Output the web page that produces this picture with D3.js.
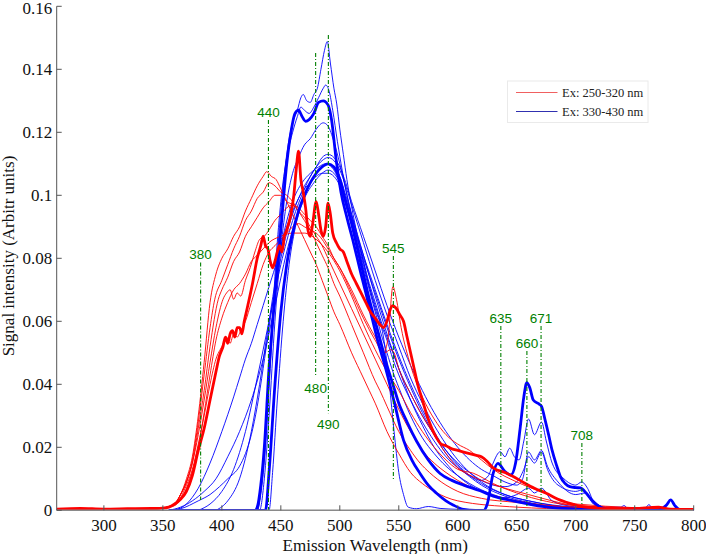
<!DOCTYPE html>
<html><head><meta charset="utf-8">
<script src="https://cdn.jsdelivr.net/npm/d3@7"></script>
<style>
html,body{margin:0;padding:0;background:#fff;}
svg{display:block;}
</style></head>
<body>
<svg id="chart" width="706" height="554"></svg>
<script>
// ---------------- DATA ----------------
const xTicks = [300,350,400,450,500,550,600,650,700,750,800];
const yTicks = [0,0.02,0.04,0.06,0.08,0.1,0.12,0.14,0.16];
const yTickLabels = ["0","0.02","0.04","0.06","0.08","0.1","0.12","0.14","0.16"];
const legendLabels = ["Ex: 250-320 nm","Ex: 330-430 nm"];

// red group (Ex 250-320 nm), [wavelength nm, intensity]
const redA = [[260,0.0003],[300,0.0004],[340,0.0004],[350,0.0007],[355,0.0012],[360,0.002],[365,0.005],[370,0.01],[375,0.017],[380,0.03],[385,0.047],[390,0.066],[395,0.075],[400,0.08],[405,0.083],[410,0.087],[415,0.09],[420,0.095],[425,0.099],[430,0.103],[435,0.106],[438,0.1075],[442,0.106],[446,0.105],[450,0.102],[455,0.098],[460,0.094],[465,0.09],[470,0.086],[475,0.082],[480,0.078],[485,0.073],[490,0.068],[495,0.063],[500,0.059],[510,0.05],[520,0.042],[525,0.038],[530,0.034],[540,0.025],[550,0.018],[560,0.012],[570,0.0085],[580,0.006],[600,0.003],[650,0.001],[700,0.0004],[800,0.0002]];
const redB = [[260,0.0003],[300,0.0004],[340,0.0005],[350,0.0007],[355,0.0012],[360,0.002],[365,0.005],[370,0.009],[375,0.016],[380,0.028],[385,0.043],[390,0.058],[394,0.067],[400,0.073],[405,0.078],[410,0.083],[415,0.087],[420,0.092],[425,0.095],[430,0.099],[435,0.101],[440,0.104],[445,0.103],[450,0.101],[455,0.1],[460,0.098],[465,0.095],[470,0.092],[475,0.089],[480,0.085],[485,0.081],[490,0.077],[495,0.072],[500,0.068],[510,0.059],[520,0.05],[530,0.041],[534,0.038],[540,0.033],[550,0.025],[560,0.019],[568,0.015],[576,0.012],[590,0.008],[600,0.006],[620,0.0038],[650,0.0025],[700,0.0008],[800,0.0002]];
const redC = [[260,0.0003],[300,0.0004],[340,0.0004],[350,0.0006],[355,0.0011],[360,0.002],[365,0.005],[370,0.009],[375,0.015],[380,0.026],[385,0.038],[390,0.052],[397,0.067],[400,0.07],[405,0.074],[410,0.079],[415,0.082],[420,0.087],[425,0.09],[430,0.093],[435,0.096],[440,0.098],[445,0.1],[450,0.1],[455,0.098],[460,0.097],[465,0.095],[470,0.093],[475,0.09],[480,0.087],[485,0.084],[490,0.08],[495,0.076],[500,0.072],[510,0.064],[520,0.056],[530,0.048],[540,0.04],[550,0.032],[560,0.025],[570,0.019],[580,0.015],[590,0.012],[600,0.0095],[620,0.006],[650,0.003],[700,0.001],[800,0.0002]];
const redD = [[260,0.0003],[300,0.0004],[340,0.0005],[350,0.0007],[355,0.0011],[360,0.002],[365,0.005],[370,0.009],[375,0.015],[380,0.024],[385,0.035],[390,0.047],[395,0.058],[401,0.067],[404,0.069],[407,0.07],[410,0.067],[413,0.069],[416,0.068],[420,0.073],[424,0.077],[428,0.082],[432,0.086],[436,0.087],[440,0.089],[445,0.092],[450,0.094],[455,0.096],[460,0.097],[465,0.096],[470,0.094],[475,0.092],[480,0.09],[485,0.087],[490,0.084],[495,0.08],[500,0.077],[510,0.069],[520,0.061],[530,0.054],[537,0.05],[541,0.055],[545,0.071],[548,0.067],[552,0.058],[560,0.046],[570,0.036],[580,0.029],[590,0.024],[600,0.021],[610,0.019],[620,0.016],[630,0.013],[650,0.009],[670,0.006],[700,0.002],[800,0.0003]];
const redE = [[260,0.0003],[300,0.0004],[340,0.0004],[350,0.0006],[355,0.001],[360,0.002],[365,0.004],[370,0.008],[375,0.013],[380,0.021],[385,0.03],[390,0.04],[395,0.048],[400,0.052],[404,0.055],[407,0.053],[410,0.056],[413,0.055],[416,0.057],[420,0.06],[425,0.066],[430,0.072],[435,0.078],[440,0.082],[445,0.084],[450,0.086],[455,0.088],[460,0.09],[465,0.091],[470,0.09],[475,0.089],[480,0.088],[485,0.086],[490,0.083],[495,0.08],[500,0.077],[510,0.07],[520,0.062],[530,0.055],[538,0.05],[543,0.051],[546,0.05],[550,0.045],[560,0.037],[570,0.03],[580,0.024],[590,0.018],[600,0.0135],[610,0.0112],[620,0.0095],[640,0.007],[660,0.005],[680,0.003],[700,0.0015],[800,0.0003]];
const redF = [[260,0.0003],[300,0.0004],[340,0.0004],[350,0.0006],[355,0.001],[360,0.0015],[370,0.007],[380,0.02],[385,0.031],[390,0.043],[395,0.054],[400,0.061],[405,0.066],[410,0.07],[415,0.072],[420,0.075],[425,0.079],[430,0.081],[435,0.083],[440,0.085],[450,0.087],[460,0.088],[470,0.088],[480,0.086],[490,0.082],[500,0.076],[510,0.068],[520,0.059],[530,0.051],[540,0.044],[550,0.038],[560,0.031],[570,0.025],[580,0.02],[590,0.016],[600,0.013],[613,0.0118],[630,0.0085],[650,0.0055],[700,0.0015],[800,0.0002]];
const redThick = [[260,0.0004],[280,0.0006],[300,0.0004],[320,0.0005],[340,0.0006],[350,0.0007],[355,0.001],[360,0.002],[365,0.0035],[370,0.006],[375,0.011],[380,0.019],[385,0.026],[390,0.035],[395,0.044],[398,0.049],[401,0.052],[403,0.055],[405,0.053],[407,0.056],[409,0.057],[411,0.055],[413,0.058],[415,0.058],[417,0.056],[419,0.06],[422,0.065],[426,0.072],[430,0.08],[433,0.084],[435,0.087],[437,0.084],[439,0.083],[441,0.079],[443,0.077],[445,0.079],[447,0.082],[449,0.084],[451,0.082],[453,0.087],[455,0.089],[458,0.093],[461,0.1],[463,0.108],[465,0.114],[467,0.105],[469,0.101],[471,0.096],[473,0.089],[475,0.087],[477,0.091],[480,0.098],[482,0.094],[484,0.089],[486,0.087],[488,0.09],[490,0.0975],[492,0.094],[494,0.088],[497,0.085],[500,0.083],[503,0.082],[506,0.079],[510,0.075],[514,0.072],[518,0.069],[522,0.066],[526,0.063],[530,0.061],[534,0.059],[537,0.058],[540,0.06],[543,0.064],[545,0.065],[548,0.064],[551,0.062],[554,0.06],[557,0.055],[560,0.05],[563,0.045],[566,0.04],[570,0.035],[574,0.03],[578,0.026],[582,0.023],[586,0.021],[590,0.0205],[595,0.0195],[600,0.019],[605,0.0185],[610,0.018],[615,0.0175],[620,0.017],[625,0.0155],[630,0.0135],[640,0.012],[647,0.0107],[655,0.009],[665,0.007],[675,0.0054],[685,0.0035],[695,0.0022],[705,0.0012],[715,0.0008],[730,0.0005],[750,0.0006],[770,0.001],[780,0.0004],[800,0.0003]];

// blue group (Ex 330-430 nm)
const blueB1 = [[355,0],[430,0],[433,0.005],[437,0.02],[441,0.045],[445,0.07],[450,0.095],[455,0.113],[460,0.123],[464,0.127],[467,0.131],[469,0.132],[472,0.13],[475,0.1295],[478,0.132],[481,0.134],[484,0.14],[487,0.146],[489.4,0.1488],[492,0.142],[495,0.134],[497.4,0.129],[500,0.121],[503,0.113],[506,0.105],[510,0.0964],[515,0.087],[520,0.079],[525,0.071],[530,0.064],[537,0.055],[542,0.04],[546,0.025],[550,0.012],[554,0.005],[558,0.001],[565,0.0005],[575,0.0012],[585,0.0006],[600,0.0003],[620,0],[800,0]];
const blueB2 = [[355,0],[430,0],[434,0.01],[438,0.03],[442,0.055],[446,0.08],[450,0.098],[455,0.112],[460,0.12],[464,0.125],[467,0.128],[470,0.127],[474,0.126],[478,0.128],[482,0.131],[486,0.134],[488,0.135],[491,0.133],[494,0.127],[498,0.117],[502,0.108],[506,0.1],[510,0.093],[515,0.085],[520,0.078],[525,0.071],[530,0.065],[535,0.059],[540,0.054],[545,0.048],[550,0.043],[560,0.035],[570,0.028],[580,0.022],[590,0.017],[600,0.0135],[610,0.011],[620,0.0095],[626,0.011],[630,0.015],[636,0.0186],[640,0.017],[644,0.0197],[648,0.017],[652,0.016],[656,0.022],[660,0.029],[665,0.024],[671,0.028],[675,0.022],[680,0.015],[690,0.01],[700,0.008],[705,0.009],[710,0.007],[715,0.003],[725,0.001],[738,0.001],[741,0.0015],[745,0.0003],[758,0.0003],[762,0.0018],[766,0.0003],[800,0]];
const blueB3 = [[355,0],[432,0],[436,0.01],[440,0.03],[445,0.06],[450,0.083],[455,0.098],[460,0.107],[465,0.112],[470,0.116],[475,0.118],[480,0.121],[486,0.123],[490,0.122],[495,0.117],[500,0.11],[505,0.102],[510,0.094],[515,0.086],[520,0.079],[525,0.072],[530,0.066],[535,0.06],[540,0.055],[545,0.05],[550,0.045],[560,0.037],[570,0.03],[580,0.024],[590,0.019],[600,0.015],[610,0.012],[620,0.0095],[630,0.008],[640,0.0075],[650,0.009],[656,0.013],[660,0.017],[665,0.015],[671,0.0185],[676,0.013],[685,0.008],[700,0.006],[706,0.0065],[712,0.004],[720,0.0015],[730,0.0005],[800,0]];
const blueG1 = [[355,0],[365,0.0005],[380,0.003],[390,0.005],[398,0.0075],[405,0.01],[415,0.014],[420,0.018],[425,0.024],[430,0.033],[435,0.045],[440,0.058],[445,0.07],[450,0.08],[455,0.088],[460,0.094],[465,0.099],[470,0.102],[475,0.104],[480,0.106],[485,0.107],[490,0.107],[495,0.106],[500,0.103],[505,0.097],[510,0.091],[515,0.084],[520,0.077],[525,0.07],[530,0.063],[535,0.056],[540,0.05],[545,0.044],[550,0.039],[560,0.03],[570,0.023],[580,0.018],[590,0.014],[600,0.011],[610,0.0085],[620,0.0065],[630,0.005],[640,0.004],[650,0.005],[660,0.007],[665,0.0055],[671,0.007],[680,0.003],[700,0.001],[720,0],[800,0]];
const blueG2 = [[355,0],[365,0.001],[375,0.003],[385,0.006],[395,0.01],[405,0.017],[415,0.025],[425,0.035],[435,0.048],[445,0.065],[455,0.082],[465,0.095],[475,0.104],[480,0.107],[485,0.109],[490,0.11],[495,0.109],[500,0.106],[505,0.1],[510,0.094],[520,0.081],[530,0.068],[540,0.056],[550,0.045],[560,0.035],[570,0.027],[580,0.02],[590,0.015],[600,0.011],[620,0.006],[640,0.0035],[660,0.002],[700,0.0005],[800,0]];
const blueG3 = [[360,0],[370,0.002],[380,0.007],[390,0.015],[400,0.025],[410,0.036],[415,0.042],[420,0.048],[425,0.053],[430,0.059],[435,0.065],[440,0.071],[445,0.077],[450,0.084],[455,0.09],[460,0.095],[465,0.099],[470,0.103],[475,0.106],[480,0.109],[485,0.111],[490,0.112],[495,0.111],[500,0.108],[505,0.103],[510,0.097],[520,0.085],[530,0.073],[540,0.062],[550,0.052],[560,0.042],[570,0.034],[580,0.027],[590,0.021],[600,0.016],[620,0.009],[640,0.005],[660,0.003],[700,0.001],[800,0]];
const blueG4 = [[380,0],[390,0.002],[400,0.006],[410,0.013],[420,0.025],[430,0.042],[440,0.06],[450,0.078],[460,0.092],[470,0.102],[475,0.106],[480,0.109],[485,0.112],[490,0.113],[495,0.112],[500,0.109],[505,0.104],[510,0.098],[520,0.087],[530,0.076],[540,0.065],[550,0.055],[560,0.046],[570,0.038],[580,0.031],[590,0.025],[600,0.02],[610,0.016],[620,0.013],[630,0.011],[640,0.009],[650,0.008],[655,0.01],[660,0.0185],[665,0.016],[671,0.019],[676,0.014],[685,0.009],[700,0.005],[708,0.0055],[715,0.002],[730,0],[800,0]];
const blueG5 = [[395,0],[405,0.003],[415,0.01],[425,0.025],[432,0.04],[438,0.055],[445,0.072],[452,0.087],[460,0.098],[468,0.104],[475,0.107],[482,0.109],[488,0.11],[493,0.109],[500,0.104],[505,0.098],[510,0.092],[520,0.08],[530,0.069],[540,0.058],[550,0.048],[560,0.039],[570,0.031],[580,0.024],[590,0.018],[600,0.014],[620,0.008],[640,0.0045],[660,0.0025],[700,0.0005],[800,0]];
const blueG6 = [[420,0],[440,0],[443,0.012],[447,0.035],[452,0.06],[457,0.078],[463,0.091],[470,0.099],[478,0.104],[485,0.107],[490,0.108],[495,0.107],[500,0.104],[505,0.099],[510,0.093],[520,0.081],[530,0.07],[540,0.059],[550,0.049],[560,0.04],[570,0.032],[580,0.025],[590,0.019],[600,0.0145],[620,0.0085],[640,0.005],[660,0.003],[700,0.0008],[800,0]];
const blueThickA = [[355,0],[428,0],[430,0.001],[433,0.008],[436,0.02],[440,0.045],[445,0.068],[450,0.089],[455,0.11],[459,0.121],[462,0.126],[465,0.127],[468,0.125],[471,0.1235],[474,0.124],[478,0.126],[482,0.1295],[486,0.13],[490,0.1287],[493,0.124],[497,0.111],[501,0.101],[506,0.093],[511,0.0858],[518,0.075],[525,0.0646],[532,0.054],[540,0.0435],[547,0.033],[554,0.0223],[561,0.016],[568,0.0117],[575,0.008],[582,0.0054],[590,0.003],[596,0.0017],[605,0.0003],[615,0],[622,0],[625,0.002],[630,0.0117],[634,0.0149],[640,0.0123],[645,0.0112],[649,0.015],[653,0.0265],[656,0.036],[658.5,0.0405],[661,0.039],[664,0.035],[669,0.0337],[671,0.033],[674,0.0287],[677,0.024],[680,0.019],[684,0.014],[687,0.0107],[691,0.0085],[695,0.0075],[700,0.0072],[704,0.0071],[709,0.0054],[713,0.0035],[718,0.0017],[722,0.0008],[726,0.0003],[735,0],[770,0],[774,0.0008],[777,0.0017],[780.5,0.0033],[784,0.0015],[788,0.0003],[800,0.0003]];
const blueThickB = [[420,0],[437,0],[440,0.012],[445,0.04],[450,0.063],[455,0.078],[460,0.088],[465,0.095],[470,0.1],[475,0.104],[480,0.107],[485,0.109],[490,0.11],[495,0.109],[500,0.105],[505,0.098],[510,0.091],[515,0.083],[520,0.075],[525,0.067],[530,0.06],[535,0.053],[540,0.046],[545,0.04],[550,0.034],[557,0.028],[565,0.022],[575,0.016],[585,0.0117],[595,0.0095],[605,0.008],[619,0.0062],[630,0.0045],[647,0.003],[660,0.002],[675,0.0011],[700,0.0004],[720,0],[800,0]];

const thinBlue = [blueG1, blueG2, blueG3, blueG4, blueG5, blueG6, blueB3, blueB2, blueB1];
const thinRed = [redA, redB, redC, redD, redE, redF];
const thickBlue = [blueThickB, blueThickA];
const thickRed = [redThick];

// annotation markers (wavelength position, label, top/bottom value, label side)
const markerNm = [382, 439.5, 479.5, 490.3, 545.4, 636.5, 658.6, 670.6, 705.2];
const markerLabel = ["380","440","480","490","545","635","660","671","708"];
const markerTop = [0.0787, 0.1239, 0.1452, 0.1509, 0.0807, 0.0585, 0.0506, 0.0585, 0.0214];
const markerBottom = [0.0033, 0, 0.0424, 0.0308, 0.0096, 0.0014, 0.0014, 0.0014, 0.0014];
const markerSide = ["top","top","bottom","bottom","top","top","top","top","top"];

// ---------------- DRAW ----------------
const svg = d3.select("#chart");
const W = 706, H = 554;
const m = {left:56.7, right:706-693.7, top:6.3, bottom:554-510.3};
const x = d3.scaleLinear().domain([260,800]).range([m.left, W-m.right]);
const y = d3.scaleLinear().domain([0,0.16]).range([H-m.bottom, m.top]);

svg.append("rect").attr("width",W).attr("height",H).attr("fill","#fff");

svg.append("defs").append("clipPath").attr("id","plotclip")
  .append("rect").attr("x",m.left).attr("y",m.top-2).attr("width",W-m.left-m.right).attr("height",H-m.top-m.bottom+2);

const line = d3.line().x(d=>x(d[0])).y(d=>y(d[1])).curve(d3.curveMonotoneX);
const plot = svg.append("g").attr("clip-path","url(#plotclip)");

function drawGroup(arr, color, width){
  plot.append("g").selectAll("path").data(arr).join("path")
    .attr("d", line).attr("fill","none").attr("stroke",color)
    .attr("stroke-width",width).attr("stroke-linejoin","round");
}
drawGroup(thinBlue, "#0000ff", 0.9);
drawGroup(thinRed, "#ff0000", 0.9);
drawGroup(thickBlue, "#0000ff", 2.8);
drawGroup(thickRed, "#ff0000", 2.8);

// markers
const green = "#007f00";
const mk = svg.append("g");
markerNm.forEach((nm,i)=>{
  mk.append("line").attr("x1",x(nm)).attr("x2",x(nm))
    .attr("y1",y(markerTop[i])).attr("y2",y(markerBottom[i]))
    .attr("stroke",green).attr("stroke-width",1.1).attr("stroke-dasharray","4,2,1,2");
  const ty = markerSide[i]==="top" ? y(markerTop[i]) - 3 : y(markerBottom[i]) + 16;
  mk.append("text").attr("x",x(nm)).attr("y",ty).attr("text-anchor","middle")
    .attr("font-family","Liberation Sans, Arial, sans-serif").attr("font-size",13.5)
    .attr("fill",green).text(markerLabel[i]);
});

// axes
const axisColor = "#555";
const ax = svg.append("g");
ax.append("line").attr("x1",x(260)).attr("x2",x(800)).attr("y1",y(0)).attr("y2",y(0))
  .attr("stroke","#8a8a8a").attr("stroke-width",1.6);
ax.append("line").attr("x1",x(260)).attr("x2",x(260)).attr("y1",y(0)).attr("y2",y(0.16))
  .attr("stroke",axisColor).attr("stroke-width",1);
const serif = "Liberation Serif, Times New Roman, serif";
xTicks.forEach(t=>{
  ax.append("line").attr("x1",x(t)).attr("x2",x(t)).attr("y1",y(0)).attr("y2",y(0)-5)
    .attr("stroke",axisColor).attr("stroke-width",1);
  ax.append("text").attr("x",x(t)).attr("y",531).attr("text-anchor","middle")
    .attr("font-family",serif).attr("font-size",17).attr("fill","#111").text(t);
});
yTicks.forEach((t,i)=>{
  ax.append("line").attr("x1",x(260)).attr("x2",x(260)+5).attr("y1",y(t)).attr("y2",y(t))
    .attr("stroke",axisColor).attr("stroke-width",1);
  ax.append("text").attr("x",x(260)-4.5).attr("y",Math.max(y(t)+5.5, 13.5)).attr("text-anchor","end")
    .attr("font-family",serif).attr("font-size",17).attr("fill","#111").text(yTickLabels[i]);
});
svg.append("text").attr("x",(x(260)+x(800))/2).attr("y",550.5).attr("text-anchor","middle")
  .attr("font-family",serif).attr("font-size",17).attr("fill","#111").text("Emission Wavelength (nm)");
svg.append("text").attr("transform","translate(14,256) rotate(-90)").attr("text-anchor","middle")
  .attr("font-family",serif).attr("font-size",17).attr("fill","#111").text("Signal intensity (Arbitr units)");

// legend
const lg = svg.append("g");
lg.append("rect").attr("x",507.5).attr("y",81).attr("width",140.5).attr("height",41.5)
  .attr("fill","#fff").attr("stroke","#eaeaea").attr("stroke-width",1);
const legColors = ["#f06060","#3030b0"];
legendLabels.forEach((lab,i)=>{
  const ly = 92.5 + i*19;
  lg.append("line").attr("x1",516).attr("x2",557.5).attr("y1",ly).attr("y2",ly)
    .attr("stroke",legColors[i]).attr("stroke-width",1);
  lg.append("text").attr("x",562).attr("y",ly+4.2).attr("font-family",serif)
    .attr("font-size",12.5).attr("fill","#222").text(lab);
});
</script>
</body></html>
